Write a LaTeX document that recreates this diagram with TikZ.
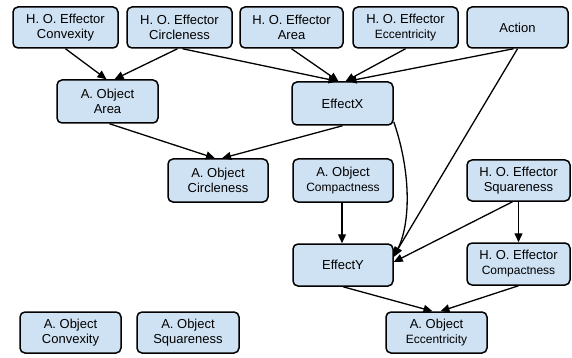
\documentclass[tikz,border=0pt]{standalone}
\usepackage{fontspec}
\setmainfont{Liberation Sans}
\usetikzlibrary{arrows.meta}
\definecolor{boxfill}{HTML}{CFE2F3}
\tikzset{
  box/.style={draw=black, line width=1.5pt, fill=boxfill, rounded corners=5pt,
    align=center, inner sep=0pt, minimum height=41pt,
    font=\fontsize{13}{15}\selectfont},
  conn/.style={draw=black, line width=1.3pt, -{Triangle[length=9pt,width=8pt]}}
}
\newcommand{\sm}[1]{{\fontsize{12}{15}\selectfont #1}}
\begin{document}
\begin{tikzpicture}[x=1pt,y=-1pt]
\useasboundingbox (0,0) rectangle (572,358);
\node[box, minimum width=105pt] (t1) at (65.5,27.5) {H. O. Effector\\Convexity};
\node[box, minimum width=105pt] (t2) at (179.5,27.5) {H. O. Effector\\Circleness};
\node[box, minimum width=103pt] (t3) at (291.5,27.5) {H. O. Effector\\Area};
\node[box, minimum width=105pt] (t4) at (405.5,27.5) {H. O. Effector\\\sm{Eccentricity}};
\node[box, minimum width=101pt] (t5) at (517.5,27.5) {Action};
\node[box, minimum width=101pt, minimum height=43pt] (aarea) at (107.5,101.5) {A. Object\\Area};
\node[box, minimum width=101pt, minimum height=43pt] (effx) at (342.5,103.5) {EffectX};
\node[box, minimum width=100pt, minimum height=43pt] (acirc) at (218,180.5) {A. Object\\Circleness};
\node[box, minimum width=100pt, minimum height=43pt] (acomp) at (343,180.5) {A. Object\\\sm{Compactness}};
\node[box, minimum width=103pt] (hsq) at (518.5,180.5) {H. O. Effector\\Squareness};
\node[box, minimum width=100pt, minimum height=42pt] (effy) at (343,265) {EffectY};
\node[box, minimum width=103pt, minimum height=42pt] (hcomp) at (518.5,264) {H. O. Effector\\\sm{Compactness}};
\node[box, minimum width=101pt] (aconv) at (70.5,332.5) {A. Object\\Convexity};
\node[box, minimum width=102pt] (asq) at (188,332.5) {A. Object\\Squareness};
\node[box, minimum width=101pt] (aecc) at (436.5,332.5) {A. Object\\\sm{Eccentricity}};
% connectors
\draw[conn] (t1.south) -- ([xshift=-1pt]aarea.north);
\draw[conn] ([xshift=-2pt]t2.south) -- ([xshift=7pt]aarea.north);
\draw[conn] ([xshift=3pt]t2.south) -- ([xshift=-5pt]effx.north);
\draw[conn] (t3.south) -- ([xshift=-4pt]effx.north);
\draw[conn] (t4.south) -- ([xshift=3pt]effx.north);
\draw[conn] ([xshift=-4pt]t5.south) -- ([xshift=5pt]effx.north);
\draw[conn] (t5.south) -- ([yshift=9pt]effy.east);
\draw[conn] ([yshift=4pt]effx.south east) .. controls (412,175) and (410,225) .. ([yshift=8pt]effy.east);
\draw[conn] ([xshift=2pt]aarea.south) -- ([xshift=-3pt]acirc.north);
\draw[conn] (effx.south) -- ([xshift=4pt]acirc.north);
\draw[conn] ([xshift=-1pt]acomp.south) -- ([xshift=-1pt]effy.north);
\draw[conn] ([xshift=-6pt]hsq.south) -- ([yshift=3pt]effy.east);
\draw[conn] (hsq.south) -- (hcomp.north);
\draw[conn] (effy.south) -- ([xshift=-4pt]aecc.north);
\draw[conn] (hcomp.south) -- ([xshift=4pt]aecc.north);
\end{tikzpicture}
\end{document}
